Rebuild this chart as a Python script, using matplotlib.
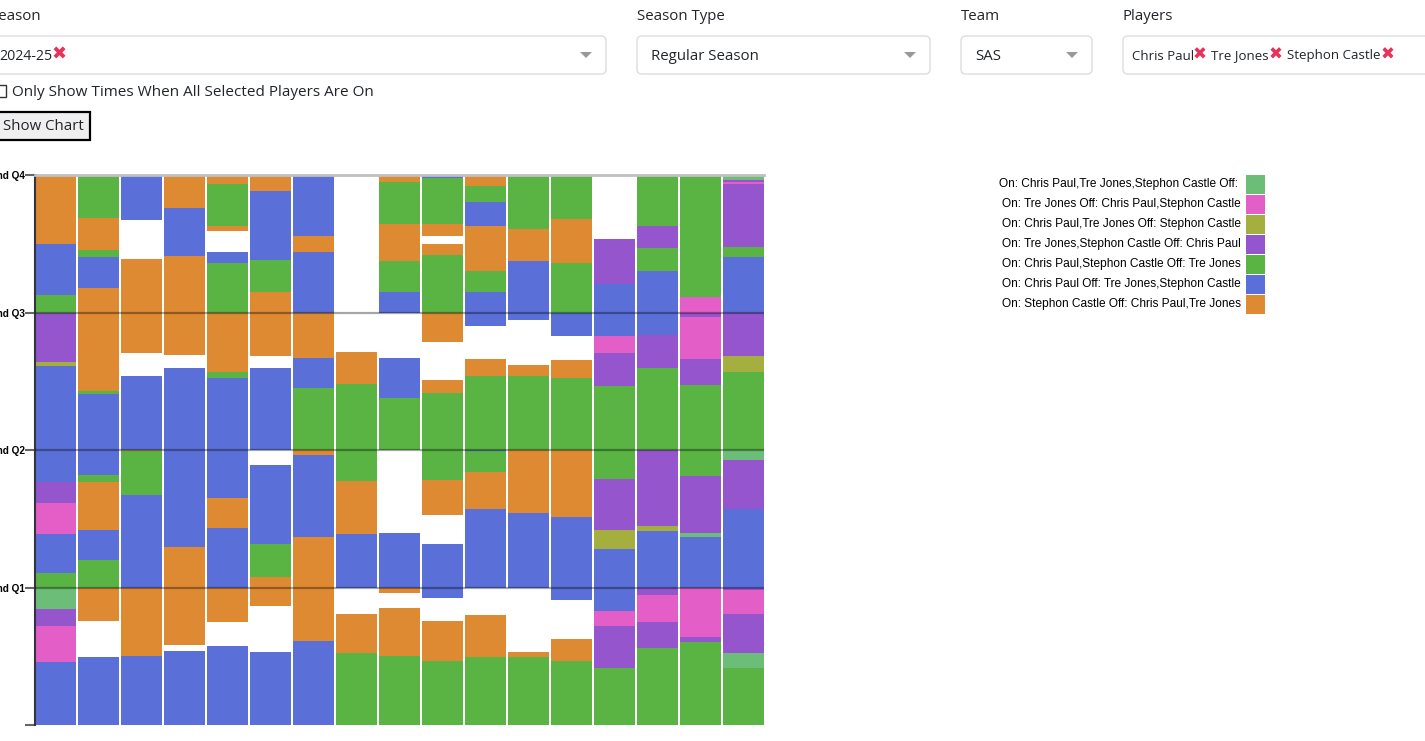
import matplotlib
matplotlib.use('Agg')
import matplotlib.pyplot as plt
from matplotlib.patches import Rectangle, FancyBboxPatch, Polygon

# lineup codes: A=all three, K=Tre Jones only, L=Paul+Jones, P=Jones+Castle,
# G=Paul+Castle, B=Paul only, O=Castle only, '-'=none on court
codes = ['A', 'K', 'L', 'P', 'G', 'B', 'O']
labels = ['On: Chris Paul,Tre Jones,Stephon Castle Off: ',
          'On: Tre Jones Off: Chris Paul,Stephon Castle',
          'On: Chris Paul,Tre Jones Off: Stephon Castle',
          'On: Tre Jones,Stephon Castle Off: Chris Paul',
          'On: Chris Paul,Stephon Castle Off: Tre Jones',
          'On: Chris Paul Off: Tre Jones,Stephon Castle',
          'On: Stephon Castle Off: Chris Paul,Tre Jones']
colors = {'A': '#6bbd77', 'K': '#e45ec8', 'L': '#a4af3f', 'P': '#9555cd',
          'G': '#59b443', 'B': '#5a6fd8', 'O': '#de8a33'}

# each game: (end minute, code) from tip-off, segments are contiguous
games = [
    [(5.49, 'B'), (8.62, 'K'), (10.11, 'P'), (12.0, 'A'), (13.26, 'G'), (16.65, 'B'), (19.34, 'K'),
     (21.18, 'P'), (31.29, 'B'), (31.64, 'L'), (36.0, 'P'), (37.5, 'G'), (41.95, 'B'), (48, 'O')],
    [(5.93, 'B'), (9.10, '-'), (12.0, 'O'), (14.36, 'G'), (17.03, 'B'), (21.18, 'O'), (21.78, 'G'),
     (28.92, 'B'), (29.14, 'G'), (38.17, 'O'), (40.81, 'B'), (41.44, 'G'), (44.23, 'O'), (48, 'G')],
    [(5.99, 'B'), (12.0, 'O'), (20.04, 'B'), (23.87, 'G'), (24.0, 'O'), (30.50, 'B'), (32.44, '-'),
     (40.71, 'O'), (44.10, '-'), (48, 'B')],
    [(6.44, 'B'), (6.98, '-'), (15.50, 'O'), (31.13, 'B'), (32.28, '-'), (40.90, 'O'), (45.15, 'B'),
     (48, 'O')],
    [(6.88, 'B'), (8.97, '-'), (12.0, 'O'), (17.15, 'B'), (19.78, 'O'), (30.28, 'B'), (30.79, 'G'),
     (36.0, 'O'), (40.36, 'G'), (41.31, 'B'), (43.15, '-'), (43.53, 'O'), (47.18, 'G'), (48, 'O')],
    [(6.34, 'B'), (10.37, '-'), (12.90, 'O'), (15.76, 'G'), (22.67, 'B'), (24.0, '-'), (31.20, 'B'),
     (32.18, '-'), (37.83, 'O'), (40.55, 'G'), (46.64, 'B'), (48, 'O')],
    [(7.32, 'B'), (16.39, 'O'), (23.56, 'B'), (24.0, 'O'), (29.39, 'G'), (31.99, 'B'), (36.0, 'O'),
     (41.25, 'B'), (42.71, 'O'), (48, 'B')],
    [(6.31, 'G'), (9.67, 'O'), (12.0, '-'), (16.65, 'B'), (21.27, 'O'), (29.77, 'G'), (32.53, 'O'),
     (48, '-')],
    [(5.99, 'G'), (10.18, 'O'), (11.54, '-'), (12.0, 'O'), (16.74, 'B'), (24.0, '-'), (28.50, 'G'),
     (31.99, 'B'), (36.0, '-'), (37.76, 'B'), (40.46, 'G'), (43.69, 'O'), (47.43, 'G'), (48, 'O')],
    [(5.58, 'G'), (9.07, 'O'), (11.07, '-'), (15.76, 'B'), (18.29, '-'), (21.34, 'O'), (28.95, 'G'),
     (30.15, 'O'), (33.39, '-'), (36.0, 'O'), (41.06, 'G'), (41.95, 'O'), (42.64, '-'), (43.75, 'O'),
     (47.78, 'G'), (48, 'B')],
    [(5.93, 'G'), (9.58, 'O'), (12.0, '-'), (18.86, 'B'), (22.04, 'O'), (23.87, 'G'), (24.0, 'B'),
     (30.50, 'G'), (31.90, 'O'), (34.78, '-'), (37.76, 'B'), (39.60, 'G'), (43.53, 'O'), (45.62, 'B'),
     (47.02, 'G'), (48, 'O')],
    [(5.93, 'G'), (6.34, 'O'), (12.0, '-'), (18.48, 'B'), (24.0, 'O'), (30.44, 'G'), (31.39, 'O'),
     (35.32, '-'), (40.46, 'B'), (43.25, 'O'), (48, 'G')],
    [(5.58, 'G'), (7.48, 'O'), (10.87, '-'), (18.14, 'B'), (24.0, 'O'), (30.28, 'G'), (31.83, 'O'),
     (33.99, '-'), (36.0, 'B'), (40.36, 'G'), (44.20, 'O'), (48, 'G')],
    [(4.95, 'G'), (8.62, 'P'), (9.92, 'K'), (15.35, 'B'), (16.99, 'L'), (21.46, 'P'), (29.55, 'G'),
     (32.44, 'P'), (33.93, 'K'), (38.52, 'B'), (42.45, 'P'), (48, '-')],
    [(6.69, 'G'), (8.97, 'P'), (11.32, 'K'), (12.0, 'P'), (16.90, 'B'), (17.34, 'L'), (24.0, 'P'),
     (31.13, 'G'), (34.05, 'P'), (39.60, 'B'), (41.66, 'G'), (43.53, 'P'), (48, 'G')],
    [(7.26, 'G'), (7.70, 'P'), (12.0, 'K'), (16.42, 'B'), (16.74, 'A'), (21.69, 'P'), (29.65, 'G'),
     (31.90, 'P'), (35.61, 'K'), (36.0, 'P'), (37.32, 'K'), (48, 'G')],
    [(4.95, 'G'), (6.28, 'A'), (9.67, 'P'), (11.79, 'K'), (12.0, 'P'), (18.86, 'B'), (23.11, 'P'),
     (24.0, 'A'), (30.79, 'G'), (32.18, 'L'), (36.0, 'P'), (40.81, 'B'), (41.76, 'G'), (47.18, 'P'),
     (47.4, 'K'), (47.6, 'P'), (48, 'A')],
]

quarter_ticks = [0, 12, 24, 36, 48]
quarter_labels = ['', 'End Q1', 'End Q2', 'End Q3', 'End Q4']

W, H = 1425, 741
fig = plt.figure(figsize=(W / 100, H / 100), dpi=100)

# ---- form controls drawn in pixel space ----
ui = fig.add_axes([0, 0, 1, 1])
ui.set_xlim(0, W)
ui.set_ylim(H, 0)
ui.axis('off')

ufont = 'Open Sans'
txt = '#212529'
xmark = '#e8315b'

def label(x, y, s, size=10.8, **kw):
    ui.text(x, y, s, fontsize=size, family=ufont, color=txt, va='center', ha='left', **kw)

def box(x0, x1):
    ui.add_patch(FancyBboxPatch((x0, 36), x1 - x0, 38, boxstyle='round,pad=0,rounding_size=5',
                                ec='#dddddd', fc='white', lw=1))

def arrow(x):
    ui.add_patch(Polygon([(x - 6, 52), (x + 6, 52), (x, 58)], closed=True, fc='#999999', ec='none'))

def xm(x, y, size=13):
    ui.text(x, y, '\u2716', fontsize=size, family='DejaVu Sans', color=xmark, va='center', ha='left')

label(-10, 16, 'Season')
label(637, 16, 'Season Type')
label(961, 16, 'Team')
label(1123, 16, 'Players')

box(-10, 606)
label(-1, 56, '2024-25', size=10.2)
xm(51, 55)
arrow(586)

box(637, 930)
label(651, 56, 'Regular Season')
arrow(910)

box(961, 1092)
label(975, 56, 'SAS')
arrow(1072)

box(1123, 1440)
label(1132, 56, 'Chris Paul', size=9.5)
xm(1193, 55, 12)
label(1211, 56, 'Tre Jones', size=9.5)
xm(1269, 55, 12)
label(1287, 56, 'Stephon Castle', size=9.5)
xm(1381, 55, 12)

ui.add_patch(Rectangle((-6, 85), 12, 12, ec='#333333', fc='white', lw=1))
label(12, 92, 'Only Show Times When All Selected Players Are On', size=11)

ui.add_patch(Rectangle((-2, 112), 92, 28, ec='black', fc='#efefef', lw=1.6))
label(3, 127, 'Show Chart')

# legend, right-aligned text with swatch
for i, c in enumerate(codes):
    y0 = 175 + 20 * i
    ui.add_patch(Rectangle((1246, y0), 19, 19, fc=colors[c], ec='none'))
    ui.text(1241, y0 + 9.5, labels[i], fontsize=8.6, family='Liberation Sans', color='black',
            ha='right', va='center')

# ---- chart ----
ax = fig.add_axes([35 / W, 16 / H, (764 - 35) / W, (725 - 175) / H])
xs, bottoms, heights, cols = [], [], [], []
for i, game in enumerate(games):
    start = 0
    for end, c in game:
        if c != '-':
            xs.append(i)
            bottoms.append(start)
            heights.append(end - start)
            cols.append(colors[c])
        start = end
ax.bar(xs, heights, bottom=bottoms, width=0.945, align='edge', color=cols, linewidth=0)

ax.set_xlim(0, 16.95)
ax.set_ylim(0, 48)
for q in [12, 24, 36]:
    ax.axhline(q, color='black', alpha=0.35, lw=1.6, zorder=3)
ax.axhline(48, color='#c0c0c0', lw=2, zorder=3, clip_on=False)

ax.set_yticks(quarter_ticks)
ax.set_yticklabels(quarter_labels, fontsize=7.2, fontweight='bold', family='Liberation Sans')
ax.tick_params(axis='y', length=7, width=1.5, color='#666666', pad=0.5)
ax.set_xticks([])
for s in ['top', 'right', 'bottom']:
    ax.spines[s].set_visible(False)
ax.spines['left'].set_color('#333344')
ax.spines['left'].set_linewidth(1.5)

fig.savefig('out.png', dpi=100)
